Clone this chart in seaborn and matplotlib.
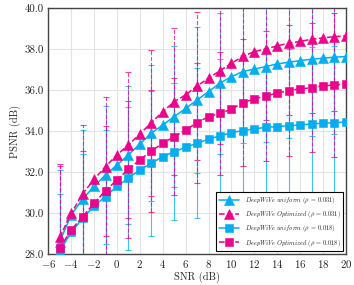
import numpy as np
import pandas as pd
import seaborn as sns
import matplotlib
matplotlib.use("Agg")
import matplotlib.pyplot as plt

snr = list(range(-5, 21))

psnr_uni_031 = [28.6, 29.9, 30.67, 31.3, 31.85, 32.34, 32.83, 33.37, 33.89, 34.29, 34.7, 35.1, 35.51,
                35.92, 36.33, 36.65, 36.9, 37.02, 37.14, 37.27, 37.35, 37.43, 37.5, 37.55, 37.6, 37.63]
psnr_opt_031 = [28.81, 29.98, 30.93, 31.64, 32.26, 32.83, 33.32, 33.85, 34.4, 34.94, 35.43, 35.76, 36.2,
                36.57, 36.94, 37.3, 37.64, 37.87, 38.0, 38.15, 38.28, 38.37, 38.47, 38.54, 38.6, 38.64]
psnr_uni_018 = [28.16, 29.05, 29.74, 30.34, 30.8, 31.3, 31.7, 32.1, 32.42, 32.75, 32.99, 33.2, 33.4,
                33.6, 33.76, 33.92, 34.02, 34.1, 34.18, 34.21, 34.26, 34.29, 34.34, 34.38, 34.4, 34.44]
psnr_opt_018 = [28.28, 29.17, 29.82, 30.47, 31.09, 31.61, 32.13, 32.59, 33.02, 33.4, 33.72, 34.05, 34.4,
                34.7, 34.86, 35.06, 35.38, 35.56, 35.71, 35.84, 35.97, 36.05, 36.11, 36.2, 36.24, 36.29]

# error bars at odd SNR values (-5, -3, ..., 19)
err_snr = list(range(-5, 20, 2))
std_uni_031 = [3.5, 3.38, 3.35, 3.37, 3.31, 3.45, 3.55, 3.44, 3.5, 3.66, 3.71, 3.74, 3.75]
std_opt_031 = [3.6, 3.37, 3.39, 3.58, 3.55, 3.57, 3.6, 3.6, 3.55, 3.46, 3.5, 3.57, 3.61]
std_uni_018 = [2.75, 3.14, 3.25, 3.49, 3.54, 3.33, 3.66, 3.74, 3.7, 3.7, 3.72, 3.74, 3.75]
std_opt_018 = [4.0, 3.18, 3.16, 3.33, 2.97, 2.85, 2.93, 3.0, 3.09, 3.19, 3.2, 3.14, 3.5]

labels = [r"$\mathit{DeepWiVe\ uniform}\ (\rho\,=\,0.031)$",
          r"$\mathit{DeepWiVe\ Optimized}\ (\rho\,=\,0.031)$",
          r"$\mathit{DeepWiVe\ uniform}\ (\rho\,=\,0.018)$",
          r"$\mathit{DeepWiVe\ Optimized}\ (\rho\,=\,0.018)$"]

BLUE = "#00AEEF"
MAG = "#EC008C"

sns.set_style("ticks")
plt.rcParams['font.family'] = ['serif']
plt.rcParams['font.serif'] = ['cmr10', 'DejaVu Serif']
plt.rcParams['mathtext.fontset'] = 'cm'
plt.rcParams['axes.formatter.use_mathtext'] = True

fig = plt.figure(figsize=(3.54, 2.85), dpi=100)
ax = fig.add_axes([0.1364, 0.109, 0.8406, 0.863])

series = [
    (psnr_uni_031, std_uni_031, BLUE, "-", "^", labels[0]),
    (psnr_opt_031, std_opt_031, MAG, "--", "^", labels[1]),
    (psnr_uni_018, std_uni_018, BLUE, "-", "s", labels[2]),
    (psnr_opt_018, std_opt_018, MAG, "--", "s", labels[3]),
]

idx = [snr.index(v) for v in err_snr]
for vals, std, col, ls, mk, lab in series:
    means = [vals[i] for i in idx]
    eb = ax.errorbar(err_snr, means, yerr=std, fmt="none", ecolor=col, elinewidth=0.8,
                     capsize=2.0, capthick=0.8, alpha=0.75, zorder=1)
    for lc in eb[2]:
        lc.set_linestyle(ls)

for vals, std, col, ls, mk, lab in series:
    df = pd.DataFrame({"snr": snr, "psnr": vals})
    sns.lineplot(data=df, x="snr", y="psnr", ax=ax, color=col, linestyle=ls, marker=mk,
                 markersize=7 if mk == "^" else 6, markeredgewidth=0.4, markeredgecolor=col,
                 linewidth=1.1, label=lab, zorder=3)

ax.set_xlim(-6, 20)
ax.set_ylim(28, 40)
ax.set_xticks(range(-6, 21, 2))
ax.set_yticks(np.arange(28, 40.1, 2))
ax.set_yticklabels([f"{v:.1f}" for v in np.arange(28, 40.1, 2)])
ax.grid(True, color="#e3e3e3", linewidth=0.8)
ax.set_axisbelow(True)
for s in ax.spines.values():
    s.set_color("#444444")
    s.set_linewidth(1.0)
ax.tick_params(axis="both", labelsize=7.8, length=0, pad=3, colors="#222222")
ax.set_xlabel("SNR (dB)", fontsize=7.5, labelpad=1)
ax.set_ylabel("PSNR (dB)", fontsize=7.5, labelpad=3)

leg = ax.legend(loc="lower right", fontsize=4.6, frameon=True, fancybox=False, framealpha=1,
                edgecolor="black", borderpad=0.45, handlelength=3.2, labelspacing=0.5,
                borderaxespad=0.4)
leg.get_frame().set_linewidth(0.8)

fig.savefig("out.png", dpi=100)
